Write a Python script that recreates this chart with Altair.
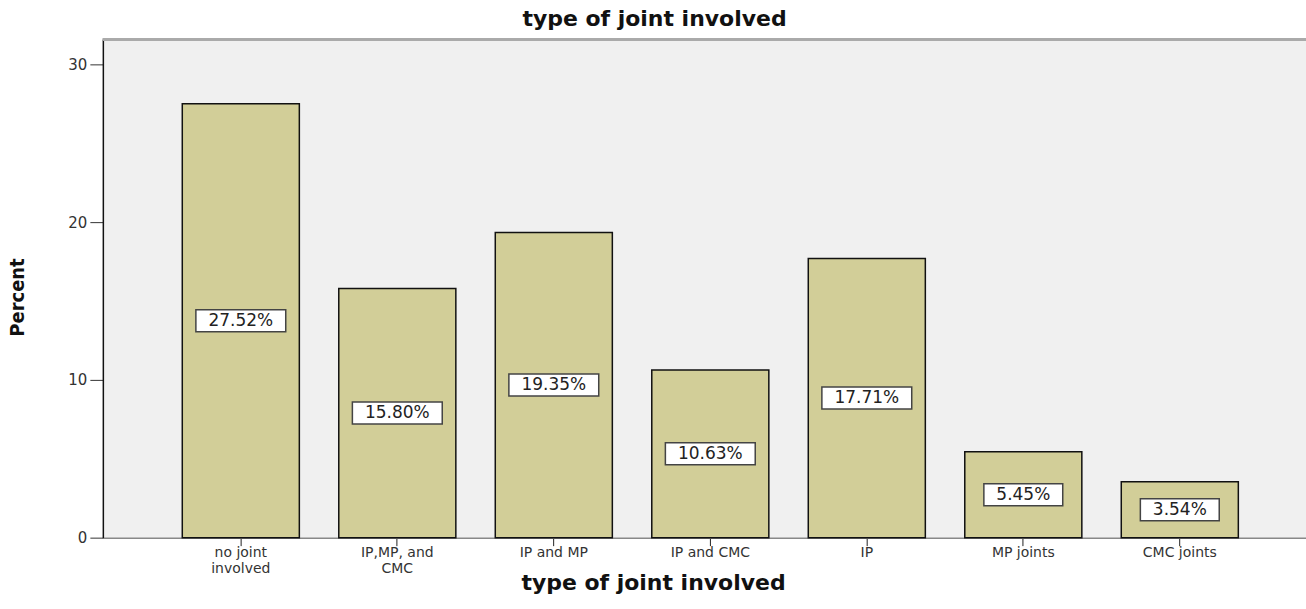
import altair as alt
import pandas as pd

categories = ["no joint involved", "IP,MP, and CMC", "IP and MP", "IP and CMC", "IP", "MP joints", "CMC joints"]
percents = [27.52, 15.80, 19.35, 10.63, 17.71, 5.45, 3.54]
labels = ["27.52%", "15.80%", "19.35%", "10.63%", "17.71%", "5.45%", "3.54%"]
y_ticks = [0, 10, 20, 30]

df = pd.DataFrame({"joint": categories, "percent": percents, "label": labels})

W, H = 1205, 499

xscale = alt.Scale(domain=categories, paddingInner=0.252, paddingOuter=0.47, align=0.54)
yscale = alt.Scale(domain=[0, 31.6], nice=False, zero=True)

label_expr = ("datum.label == 'no joint involved' ? ['no joint', 'involved'] : "
              "datum.label == 'IP,MP, and CMC' ? ['IP,MP, and', 'CMC'] : datum.label")

x = alt.X(
    "joint:N", scale=xscale, sort=categories,
    axis=alt.Axis(
        title="type of joint involved", labelAngle=0, labelExpr=label_expr,
        labelFont="DejaVu Sans", labelFontSize=14, labelColor="#333",
        labelLineHeight=16, labelPadding=0, tickSize=8, tickColor="#222",
        domainColor="#888", domainWidth=1.5,
        titleFont="DejaVu Sans", titleFontWeight="bold", titleFontSize=22,
        titleColor="#111", titleX=551, titleY=52, titleBaseline="alphabetic",
        titleAlign="center",
    ),
)

yaxis = alt.Axis(
    title="Percent", values=y_ticks, grid=False, tickSize=13, labelPadding=3,
    labelFont="DejaVu Sans", labelFontSize=15, labelColor="#333",
    domainColor="#111", domainWidth=1.5, tickColor="#333",
    titleFont="Liberation Sans Narrow, DejaVu Sans Condensed, Arial Narrow, Liberation Sans, sans-serif",
    titleFontWeight="bold", titleFontSize=20,
    titleColor="#111", titleAngle=270, titleX=-85, titleY=258,
    titleBaseline="middle", titleAlign="center",
)

frame_top = alt.Chart(df).mark_rule(color="#aaaaaa", strokeWidth=2).encode(
    x=alt.value(0), x2=alt.value(W + 10), y=alt.value(0)
)

bars = alt.Chart(df).mark_bar(fill="#d2ce98", stroke="#111", strokeWidth=1.5).encode(
    x=x, y=alt.Y("percent:Q", scale=yscale, axis=yaxis)
)

base = alt.Chart(df).transform_calculate(mid="datum.percent / 2")

box_wide = base.transform_filter("length(datum.label) > 5").mark_bar(
    width=90, fill="white", stroke="#444", strokeWidth=1.5, yOffset=-11, y2Offset=11
).encode(x=x, y=alt.Y("mid:Q", scale=yscale, axis=yaxis), y2="mid:Q")

box_narrow = base.transform_filter("length(datum.label) <= 5").mark_bar(
    width=79, fill="white", stroke="#444", strokeWidth=1.5, yOffset=-11, y2Offset=11
).encode(x=x, y=alt.Y("mid:Q", scale=yscale, axis=yaxis), y2="mid:Q")

texts = base.mark_text(font="DejaVu Sans", fontSize=17, color="#222", baseline="middle").encode(
    x=x, y=alt.Y("mid:Q", scale=yscale, axis=yaxis), text="label:N"
)

chart = alt.layer(bars, box_wide, box_narrow, texts, frame_top).properties(
    width=W, height=H,
    title=alt.TitleParams(
        "type of joint involved", font="DejaVu Sans", fontSize=22, fontWeight="bold",
        color="#111", anchor="middle", frame="group", dx=-50, offset=7,
    ),
    autosize=alt.AutoSizeParams(type="none"),
    padding={"left": 103, "top": 39, "right": 0, "bottom": 71},
    background="white",
).configure_view(fill="#f0f0f0", stroke="transparent")

chart.save("out.html", embed_options={"renderer": "svg", "actions": False})
